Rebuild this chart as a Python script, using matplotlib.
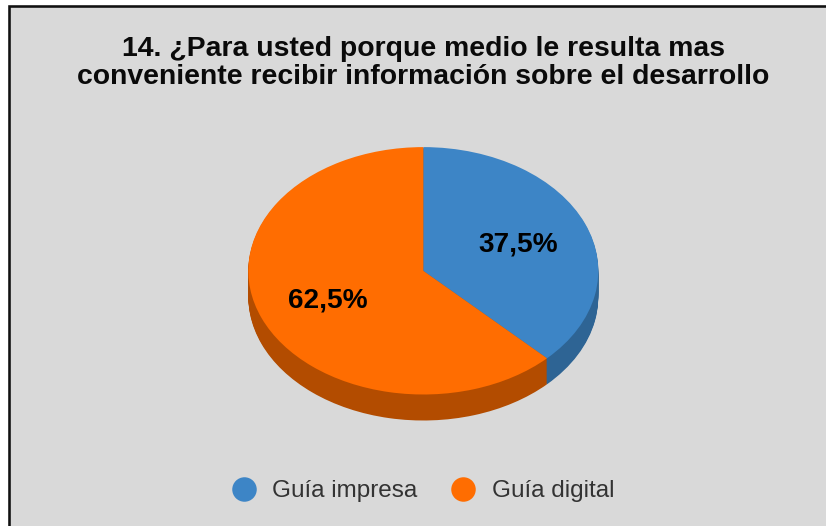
import matplotlib
matplotlib.use("Agg")
import matplotlib.pyplot as plt
from matplotlib.lines import Line2D
from matplotlib.patches import Rectangle

plt.rcParams['font.family'] = ['Liberation Sans', 'DejaVu Sans']

title_lines = ["14. ¿Para usted porque medio le resulta mas",
               "conveniente recibir información sobre el desarrollo"]
categories = ["Guía impresa", "Guía digital"]
values = [37.5, 62.5]
value_labels = ["37,5%", "62,5%"]
colors = ["#3d85c6", "#ff6d01"]
side_colors = ["#2e6494", "#b34c00"]

W, H = 826, 526
fig = plt.figure(figsize=(W / 100, H / 100), dpi=100, facecolor="white")

def fx(x): return x / W
def fy(y): return 1 - y / H
def pt(px): return px * 0.72

# background panel with dark border
fig.add_artist(Rectangle((fx(9), fy(H + 10)), (W + 10 - 9) / W, (H + 10 - 6) / H,
                         transform=fig.transFigure, facecolor="#d9d9d9",
                         edgecolor="#111111", linewidth=pt(2.6), zorder=-5))

# pie: axes box maps the ellipse of the top face
cx, cy, rx, ry, depth = 423.3, 270.8, 175, 123.7, 26
ax = fig.add_axes([fx(cx - rx), fy(cy + ry + depth), 2 * rx / W, (2 * ry + depth) / H])
for d in range(depth, 0, -1):
    ax.pie(values, colors=side_colors, startangle=90, counterclock=False,
           center=(0, -d / ry), radius=1, wedgeprops={"linewidth": 0})
ax.pie(values, colors=colors, startangle=90, counterclock=False,
       center=(0, 0), radius=1, wedgeprops={"linewidth": 0})
ax.set_aspect("auto")
ax.set_xlim(-1, 1)
ax.set_ylim(-1 - depth / ry, 1)
ax.patch.set_alpha(0)
ax.set_axis_off()

# value labels
fig.text(fx(518), fy(244), value_labels[0], ha="center", va="center",
         fontsize=pt(28), fontweight="bold", color="black")
fig.text(fx(327.5), fy(300), value_labels[1], ha="center", va="center",
         fontsize=pt(28), fontweight="bold", color="black")

# title
fig.text(fx(423), fy(49), title_lines[0], ha="center", va="center",
         fontsize=pt(28.4), fontweight="bold", color="#0a0a0a")
fig.text(fx(423), fy(77), title_lines[1], ha="center", va="center",
         fontsize=pt(28.4), fontweight="bold", color="#0a0a0a")

# legend
for col, lab, mx, tx in zip(colors, categories, [244, 463], [272, 492]):
    fig.add_artist(Line2D([fx(mx)], [fy(489)], marker="o", markersize=pt(24.5),
                          markerfacecolor=col, markeredgewidth=0, linestyle="none",
                          transform=fig.transFigure))
    fig.text(fx(tx), fy(491), lab, ha="left", va="center",
             fontsize=pt(24.2), color="#333333")

fig.savefig("out.png", dpi=100, facecolor="white")
